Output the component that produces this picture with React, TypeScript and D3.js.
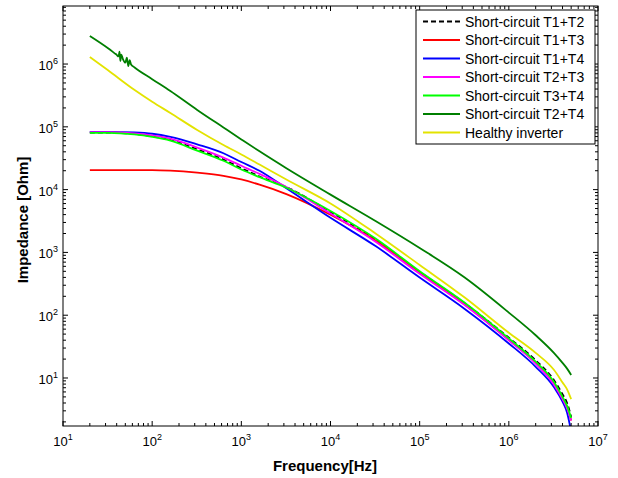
import React from 'react';
import * as d3 from 'd3';

// ---- Data ----
const seriesNames = [
  'Short-circuit T1+T2',
  'Short-circuit T1+T3',
  'Short-circuit T1+T4',
  'Short-circuit T2+T3',
  'Short-circuit T3+T4',
  'Short-circuit T2+T4',
  'Healthy inverter',
];

const freqGrid = [20, 32, 63, 100, 160, 320, 630, 1000, 1600, 3200, 1e4, 3.2e4, 1e5, 3.2e5, 1e6, 2e6, 3.2e6, 4e6, 4.5e6, 5e6];

const zT1T2 = [81300, 81300, 76700, 70800, 61700, 43700, 30200, 21900, 16200, 11000, 4370, 1580, 490, 155, 43.7, 19.1, 9.3, 5.5, 4.0, 2.4];
const zT1T3 = [20400, 20400, 20400, 20400, 20000, 18600, 16600, 14500, 12000, 8500, 3980, 1550, 479, 148, 40.7, 17.4, 8.3, 4.8, 3.5, 2.1];
const zT1T4 = [83000, 83000, 81300, 77600, 69200, 52500, 38000, 27500, 20000, 10500, 3550, 1260, 398, 126, 35.5, 15.1, 7.2, 4.2, 2.8, 1.4];
const zT2T3 = [82200, 82200, 78500, 73300, 64600, 46800, 32400, 24000, 17800, 11000, 4170, 1480, 457, 145, 39.8, 17.0, 7.9, 4.6, 3.3, 2.1];
const zT3T4 = [80400, 80400, 75900, 69200, 60300, 41700, 28800, 20900, 15800, 10700, 4570, 1660, 501, 158, 42.7, 18.2, 8.7, 5.0, 3.6, 2.3];
const zHealthy = [1.29e6, 7.94e5, 3.89e5, 2.51e5, 1.66e5, 89100, 51300, 36300, 25100, 14500, 6030, 2000, 631, 191, 52.5, 25.1, 13.5, 8.5, 6.6, 4.6];

const freqT2T4 = [20, 32, 38, 40, 42, 43, 44, 45, 47, 50, 52, 54, 56, 58, 63, 100, 160, 320, 630, 1000, 1600, 3200, 1e4, 3.2e4, 1e5, 3.2e5, 1e6, 2e6, 3.2e6, 4e6, 4.5e6, 5e6];
const zT2T4 = [2.79e6, 1.78e6, 1.48e6, 1.40e6, 1.32e6, 1.58e6, 1.12e6, 1.41e6, 1.20e6, 1.05e6, 1.26e6, 9.3e5, 1.15e6, 9.8e5, 8.9e5, 5.75e5, 3.72e5, 1.86e5, 97700, 63100, 40700, 21900, 8320, 3160, 1175, 398, 110, 47.9, 25.1, 17.4, 14.1, 11.2];

const seriesColors = ['#000000', '#ff0000', '#0000ff', '#ff00ff', '#00ff00', '#007f00', '#e3e300'];
const seriesDash = ['5,3', null, null, null, null, null, null];

const xTickExponents = [1, 2, 3, 4, 5, 6, 7];
const yTickExponents = [1, 2, 3, 4, 5, 6];

const xLabel = 'Frequency[Hz]';
const yLabel = 'Impedance [Ohm]';

// ---- Layout ----
const W = 618, H = 478;
const L = 63, R = 598, T = 6, B = 426;
const FONT = '"Liberation Sans", Arial, Helvetica, sans-serif';

export default function App() {
  const x = d3.scaleLog().domain([10, 1e7]).range([L, R]);
  const y = d3.scaleLog().domain([1.72, 8.4e6]).range([B, T]);

  const series = [
    { f: freqGrid, z: zT1T2 },
    { f: freqGrid, z: zT1T3 },
    { f: freqGrid, z: zT1T4 },
    { f: freqGrid, z: zT2T3 },
    { f: freqGrid, z: zT3T4 },
    { f: freqT2T4, z: zT2T4 },
    { f: freqGrid, z: zHealthy },
  ];

  const line = d3
    .line<[number, number]>()
    .x((d) => x(d[0]))
    .y((d) => y(d[1]))
    .curve(d3.curveMonotoneX);

  const xMinor: number[] = [];
  for (let e = 1; e < 7; e++) for (let k = 2; k <= 9; k++) xMinor.push(k * Math.pow(10, e));
  const yMinor: number[] = [];
  for (let e = 0; e < 7; e++)
    for (let k = 2; k <= 9; k++) {
      const v = k * Math.pow(10, e);
      if (v >= 1.72 && v <= 8.4e6) yMinor.push(v);
    }

  const maj = 5, mnr = 3;

  const legendX = 416, legendY = 10, legendW = 179, legendH = 134;
  const rowY0 = 21.5, rowStep = 18.5;

  return (
    <svg width={W} height={H} style={{ position: 'absolute', left: 0, top: 0, background: '#fff' }} fontFamily={FONT}>
      <rect x={0} y={0} width={W} height={H} fill="#fff" />
      <defs>
        <clipPath id="plotclip">
          <rect x={L} y={T} width={R - L} height={B - T} />
        </clipPath>
      </defs>

      {/* curves */}
      <g clipPath="url(#plotclip)">
        {series.map((s, i) => (
          <path
            key={i}
            d={line(s.f.map((f, j) => [f, s.z[j]] as [number, number])) || ''}
            fill="none"
            stroke={seriesColors[i]}
            strokeWidth={1.8}
            strokeDasharray={seriesDash[i] || undefined}
            strokeLinejoin="round"
          />
        ))}
      </g>

      {/* ticks */}
      <g stroke="#000" strokeWidth={1}>
        {xTickExponents.map((e) => {
          const px = x(Math.pow(10, e));
          return (
            <g key={'xm' + e}>
              <line x1={px} x2={px} y1={B} y2={B - maj} />
              <line x1={px} x2={px} y1={T} y2={T + maj} />
            </g>
          );
        })}
        {xMinor.map((v, i) => {
          const px = x(v);
          return (
            <g key={'xn' + i}>
              <line x1={px} x2={px} y1={B} y2={B - mnr} />
              <line x1={px} x2={px} y1={T} y2={T + mnr} />
            </g>
          );
        })}
        {yTickExponents.map((e) => {
          const py = y(Math.pow(10, e));
          return (
            <g key={'ym' + e}>
              <line x1={L} x2={L + maj} y1={py} y2={py} />
              <line x1={R} x2={R - maj} y1={py} y2={py} />
            </g>
          );
        })}
        {yMinor.map((v, i) => {
          const py = y(v);
          return (
            <g key={'yn' + i}>
              <line x1={L} x2={L + mnr} y1={py} y2={py} />
              <line x1={R} x2={R - mnr} y1={py} y2={py} />
            </g>
          );
        })}
      </g>

      {/* axes box */}
      <rect x={L} y={T} width={R - L} height={B - T} fill="none" stroke="#000" strokeWidth={1} />

      {/* tick labels */}
      <g fontSize={13} fill="#000">
        {xTickExponents.map((e) => (
          <text key={'xl' + e} x={x(Math.pow(10, e))} y={446} textAnchor="middle">
            <tspan>10</tspan>
            <tspan dy={-6} fontSize={9}>{e}</tspan>
          </text>
        ))}
        {yTickExponents.map((e) => (
          <text key={'yl' + e} x={58} y={y(Math.pow(10, e)) + 6} textAnchor="end">
            <tspan>10</tspan>
            <tspan dy={-6} fontSize={9}>{e}</tspan>
          </text>
        ))}
      </g>

      {/* axis labels */}
      <text x={325} y={471} textAnchor="middle" fontSize={15} fontWeight="bold">{xLabel}</text>
      <text transform={`translate(28,220) rotate(-90)`} textAnchor="middle" fontSize={15} fontWeight="bold">{yLabel}</text>

      {/* legend */}
      <rect x={legendX} y={legendY} width={legendW} height={legendH} fill="#fff" stroke="#000" strokeWidth={1} />
      {seriesNames.map((n, i) => {
        const ry = rowY0 + i * rowStep;
        return (
          <g key={'lg' + i}>
            <line x1={423} x2={460} y1={ry} y2={ry} stroke={seriesColors[i]} strokeWidth={1.8} strokeDasharray={seriesDash[i] || undefined} />
            <text x={465} y={ry + 5} fontSize={14} fill="#000">{n}</text>
          </g>
        );
      })}
    </svg>
  );
}
